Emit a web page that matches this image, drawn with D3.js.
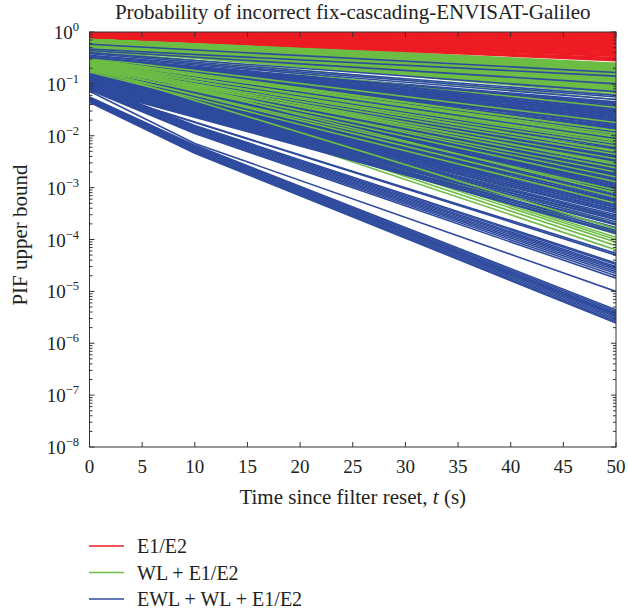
<!DOCTYPE html>
<html>
<head>
<meta charset="utf-8">
<script src="https://cdn.jsdelivr.net/npm/d3@7"></script>
<style>
  body { margin: 0; background: #fff; }
  text { font-family: "Liberation Serif", "DejaVu Serif", serif; fill: #222; }
</style>
</head>
<body>
<svg id="chart" width="628" height="611"></svg>
<script>
// time grids (s)
const tEnds = [0, 50];
const tKink = [0, 10, 50];

// E1/E2 : [p(0), p(50)]
const redLines = [
  [1.0, 1.0], [1.0, 0.98], [1.0, 0.955], [1.0, 0.92], [1.0, 0.89], [0.98, 0.87], [0.99, 0.85],
  [0.98, 0.83], [0.97, 0.81], [0.955, 0.79], [0.96, 0.775], [0.95, 0.76], [0.94, 0.745],
  [0.93, 0.73], [0.93, 0.71], [0.92, 0.695], [0.91, 0.68], [0.91, 0.66], [0.9, 0.645],
  [0.89, 0.63], [0.89, 0.6], [0.88, 0.59], [0.89, 0.58], [0.87, 0.56], [0.86, 0.55],
  [0.87, 0.54], [0.85, 0.52], [0.845, 0.51], [0.85, 0.5], [0.84, 0.48], [0.85, 0.47],
  [0.83, 0.455], [0.83, 0.44], [0.82, 0.42], [0.82, 0.41], [0.83, 0.4], [0.81, 0.38],
  [0.8, 0.37], [0.81, 0.36], [0.8, 0.35], [0.81, 0.34], [0.79, 0.32],
  [0.79, 0.305], [0.79, 0.3], [0.79, 0.29], [0.79, 0.28]
];

// WL + E1/E2 : [p(0), p(50)]
const greenTop = [
  [0.79, 0.25], [0.785, 0.245], [0.78, 0.24], [0.77, 0.234], [0.76, 0.23], [0.75, 0.224],
  [0.74, 0.22], [0.73, 0.214], [0.72, 0.21], [0.716, 0.204], [0.71, 0.2], [0.7, 0.195],
  [0.69, 0.19], [0.684, 0.186], [0.68, 0.18], [0.668, 0.178], [0.66, 0.17], [0.653, 0.166],
  [0.65, 0.16], [0.638, 0.155], [0.63, 0.15], [0.624, 0.148], [0.62, 0.145], [0.61, 0.141],
  [0.6, 0.14], [0.596, 0.135], [0.59, 0.13], [0.582, 0.129], [0.58, 0.126], [0.569, 0.123],
  [0.56, 0.12], [0.556, 0.116], [0.55, 0.11], [0.543, 0.108], [0.54, 0.105], [0.531, 0.102],
  [0.52, 0.1], [0.519, 0.097], [0.51, 0.093], [0.507, 0.09], [0.5, 0.087], [0.495, 0.085],
  [0.49, 0.083], [0.484, 0.08], [0.48, 0.078], [0.473, 0.075], [0.47, 0.072], [0.462, 0.07],
  [0.46, 0.068], [0.5, 0.063], [0.44, 0.05], [0.42, 0.035]
];
// WL + E1/E2, steeper lines lying over the blue band
const greenMid = [
  [0.32, 0.018], [0.28, 0.0126], [0.3, 0.0126], [0.27, 0.011], [0.3, 0.01], [0.29, 0.0095],
  [0.25, 0.0083], [0.26, 0.0079], [0.26, 0.0072], [0.23, 0.0063], [0.24, 0.0052], [0.25, 0.005],
  [0.22, 0.0044], [0.21, 0.0036], [0.2, 0.003], [0.24, 0.0028], [0.22, 0.0024], [0.19, 0.002],
  [0.22, 0.0016], [0.2, 0.0013], [0.18, 9.0e-4], [0.25, 7.9e-4], [0.19, 6.5e-4], [0.17, 5.0e-4],
  [0.2, 1.6e-4]
];
// WL + E1/E2, steepest lines, under the blue band
const greenLow = [
  [0.21, 2.5e-4], [0.204, 2.0e-4], [0.195, 1.4e-4], [0.19, 1.26e-4], [0.186, 1.1e-4],
  [0.18, 1.0e-4], [0.174, 8.9e-5], [0.166, 7.6e-5], [0.155, 6.3e-5]
];

// EWL + WL + E1/E2 : [p(0), p(50)]
const blueTop = [
  [0.58, 0.166], [0.47, 0.141], [0.44, 0.1], [0.4, 0.071],
  [0.38, 0.06], [0.355, 0.056], [0.34, 0.05], [0.32, 0.042]
];
const blueMid = [
  [0.32, 0.045], [0.3, 0.04], [0.31, 0.036], [0.29, 0.033], [0.295, 0.03], [0.275, 0.028],
  [0.28, 0.026], [0.26, 0.024], [0.27, 0.022], [0.25, 0.021], [0.257, 0.019], [0.24, 0.018],
  [0.245, 0.0166], [0.23, 0.015], [0.234, 0.0138], [0.22, 0.0126], [0.224, 0.0115], [0.21, 0.0105],
  [0.214, 0.0095], [0.2, 0.0089], [0.204, 0.0083], [0.19, 0.0076], [0.195, 0.0071], [0.18, 0.0066],
  [0.186, 0.006], [0.174, 0.0055], [0.178, 0.005], [0.166, 0.0046], [0.17, 0.0042], [0.158, 0.0038],
  [0.162, 0.0035], [0.15, 0.0032], [0.155, 0.0029], [0.145, 0.0026], [0.148, 0.0024], [0.138, 0.0022],
  [0.141, 0.002], [0.132, 0.0018], [0.135, 0.00166], [0.126, 0.0015], [0.129, 0.00138], [0.12, 0.00126],
  [0.123, 0.00115], [0.115, 0.00105], [0.117, 9.5e-4], [0.11, 8.7e-4], [0.112, 7.9e-4], [0.105, 7.2e-4],
  [0.107, 6.6e-4], [0.1, 6.0e-4], [0.102, 5.5e-4], [0.095, 5.0e-4], [0.098, 4.6e-4], [0.091, 4.2e-4],
  [0.093, 3.8e-4], [0.087, 3.5e-4],
  [0.089, 2.8e-4], [0.087, 2.4e-4], [0.085, 2.0e-4], [0.083, 1.66e-4], [0.081, 1.38e-4],
  [0.079, 5.4e-5], [0.079, 5.0e-5],
  [0.3, 0.0425], [0.29, 0.038], [0.28, 0.0345], [0.27, 0.0315], [0.26, 0.029], [0.25, 0.027],
  [0.245, 0.025], [0.235, 0.023], [0.23, 0.0215], [0.22, 0.02], [0.215, 0.0185], [0.205, 0.0172],
  [0.2, 0.0158], [0.19, 0.0144], [0.185, 0.0132], [0.178, 0.012], [0.172, 0.011], [0.166, 0.01],
  [0.16, 0.0092], [0.155, 0.0086], [0.15, 0.008], [0.145, 0.0074], [0.14, 0.0068], [0.135, 0.0063],
  [0.13, 0.0057], [0.126, 0.0052], [0.122, 0.0048], [0.118, 0.0044], [0.114, 0.004], [0.11, 0.0036],
  [0.107, 0.0033], [0.104, 0.003], [0.1, 0.0027], [0.097, 0.0025], [0.094, 0.0023], [0.09, 0.0021],
  [0.088, 0.0019], [0.085, 0.0017], [0.083, 0.0016], [0.08, 0.0014],
  [0.2, 0.004], [0.19, 0.0037], [0.195, 0.0034], [0.18, 0.0031], [0.185, 0.0028], [0.17, 0.0026],
  [0.175, 0.0024], [0.16, 0.0022], [0.165, 0.002], [0.15, 0.0019], [0.155, 0.0017], [0.145, 0.0016],
  [0.14, 0.0015], [0.135, 0.0014], [0.138, 0.0013], [0.13, 0.0012], [0.127, 0.0011], [0.124, 0.001],
  [0.12, 9.2e-4], [0.118, 8.4e-4], [0.115, 7.6e-4], [0.112, 7.0e-4], [0.11, 6.4e-4], [0.108, 5.8e-4],
  [0.105, 5.3e-4], [0.103, 4.9e-4], [0.1, 4.5e-4], [0.098, 4.1e-4], [0.096, 3.7e-4], [0.094, 3.3e-4],
  [0.092, 3.0e-4], [0.09, 2.7e-4], [0.088, 2.5e-4], [0.086, 2.2e-4], [0.092, 1.9e-4], [0.088, 1.7e-4],
  [0.084, 1.5e-4], [0.09, 1.3e-4]
];
// EWL + WL + E1/E2, lower bundles : [p(0), p(10), p(50)]
const blueLow = [
  [0.1, 0.0158, 3.5e-5], [0.095, 0.015, 3.3e-5], [0.093, 0.0145, 3.0e-5], [0.089, 0.0138, 2.8e-5],
  [0.087, 0.0132, 2.6e-5], [0.083, 0.0126, 2.4e-5], [0.081, 0.012, 2.2e-5], [0.079, 0.0115, 2.0e-5],
  [0.076, 0.011, 1.8e-5],
  [0.072, 0.0071, 1.0e-5],
  [0.056, 0.0066, 4.4e-6], [0.055, 0.0063, 4.1e-6], [0.054, 0.006, 3.8e-6], [0.052, 0.0059, 3.6e-6],
  [0.051, 0.0056, 3.4e-6], [0.05, 0.0055, 3.2e-6], [0.048, 0.0052, 3.0e-6], [0.047, 0.005, 2.8e-6],
  [0.045, 0.0048, 2.6e-6], [0.044, 0.0046, 2.45e-6]
];

const xTicks = [0, 5, 10, 15, 20, 25, 30, 35, 40, 45, 50];
const yExps = [0, -1, -2, -3, -4, -5, -6, -7, -8];
const legendLabels = ["E1/E2", "WL + E1/E2", "EWL + WL + E1/E2"];

const colors = { red: "#ed1c24", green: "#6dbd45", blue: "#2e4b9e" };

const svg = d3.select("#chart");
const plotL = 89.5, plotR = 616, plotT = 32, plotB = 447;

const x = d3.scaleLinear().domain([0, 50]).range([plotL, plotR]);
const y = d3.scaleLog().domain([1e-8, 1]).range([plotB, plotT]);

svg.append("defs").append("clipPath").attr("id", "plot-clip")
  .append("rect").attr("x", plotL).attr("y", plotT).attr("width", plotR - plotL).attr("height", plotB - plotT);

const line = d3.line().x(d => x(d[0])).y(d => y(d[1]));

// draw order gives the mixing seen in the figure
const groups = [
  { data: greenLow, times: tEnds, color: colors.green },
  { data: blueMid, times: tEnds, color: colors.blue },
  { data: blueLow, times: tKink, color: colors.blue },
  { data: greenMid, times: tEnds, color: colors.green },
  { data: greenTop, times: tEnds, color: colors.green },
  { data: blueTop, times: tEnds, color: colors.blue },
  { data: redLines, times: tEnds, color: colors.red }
];

const plot = svg.append("g").attr("clip-path", "url(#plot-clip)");
groups.forEach(g => {
  plot.append("g")
    .selectAll("path")
    .data(g.data)
    .enter()
    .append("path")
    .attr("d", vals => line(vals.map((v, i) => [g.times[i], v])))
    .attr("fill", "none")
    .attr("stroke", g.color)
    .attr("stroke-width", 1.6);
});

// frame
const axisColor = "#333";
svg.append("rect")
  .attr("x", plotL).attr("y", plotT).attr("width", plotR - plotL).attr("height", plotB - plotT)
  .attr("fill", "none").attr("stroke", axisColor).attr("stroke-width", 1);

// y ticks (major + minor, both sides, inward)
const minor = [];
for (let k = -8; k < 0; k++) for (let j = 2; j <= 9; j++) minor.push(j * Math.pow(10, k));
const ticksG = svg.append("g").attr("stroke", axisColor).attr("stroke-width", 1);
yExps.forEach(e => {
  const yy = y(Math.pow(10, e));
  ticksG.append("line").attr("x1", plotL).attr("x2", plotL + 5).attr("y1", yy).attr("y2", yy);
  ticksG.append("line").attr("x1", plotR).attr("x2", plotR - 5).attr("y1", yy).attr("y2", yy);
});
minor.forEach(v => {
  const yy = y(v);
  ticksG.append("line").attr("x1", plotL).attr("x2", plotL + 3).attr("y1", yy).attr("y2", yy);
  ticksG.append("line").attr("x1", plotR).attr("x2", plotR - 3).attr("y1", yy).attr("y2", yy);
});
xTicks.forEach(t => {
  ticksG.append("line").attr("x1", x(t)).attr("x2", x(t)).attr("y1", plotB).attr("y2", plotB - 5);
  ticksG.append("line").attr("x1", x(t)).attr("x2", x(t)).attr("y1", plotT).attr("y2", plotT + 5);
});

// y tick labels
yExps.forEach(e => {
  const t = svg.append("text")
    .attr("x", 79).attr("y", y(Math.pow(10, e)) + 7)
    .attr("text-anchor", "end")
    .attr("font-size", 19);
  t.append("tspan").text("10");
  t.append("tspan").attr("dy", -8).attr("font-size", 12.5).text(e === 0 ? "0" : "\u2212" + (-e));
});

// x tick labels
svg.append("g").selectAll("text")
  .data(xTicks).enter().append("text")
  .attr("x", d => x(d)).attr("y", 473)
  .attr("text-anchor", "middle").attr("font-size", 19)
  .text(d => d);

// title
svg.append("text")
  .attr("x", (plotL + plotR) / 2).attr("y", 19)
  .attr("text-anchor", "middle").attr("font-size", 21)
  .text("Probability of incorrect fix-cascading-ENVISAT-Galileo");

// axis labels
const xl = svg.append("text")
  .attr("x", (plotL + plotR) / 2).attr("y", 504)
  .attr("text-anchor", "middle").attr("font-size", 21);
xl.append("tspan").text("Time since filter reset, ");
xl.append("tspan").attr("font-style", "italic").text("t");
xl.append("tspan").text(" (s)");

svg.append("text")
  .attr("transform", "translate(27, 235) rotate(-90)")
  .attr("text-anchor", "middle").attr("font-size", 21)
  .text("PIF upper bound");

// legend
const legend = svg.append("g");
const legendColors = [colors.red, colors.green, colors.blue];
legendLabels.forEach((lab, i) => {
  const ly = 546 + i * 26.5;
  legend.append("line")
    .attr("x1", 89).attr("x2", 124).attr("y1", ly).attr("y2", ly)
    .attr("stroke", legendColors[i]).attr("stroke-width", 1.4);
  legend.append("text")
    .attr("x", 137).attr("y", ly + 7).attr("font-size", 20)
    .text(lab);
});
</script>
</body>
</html>
